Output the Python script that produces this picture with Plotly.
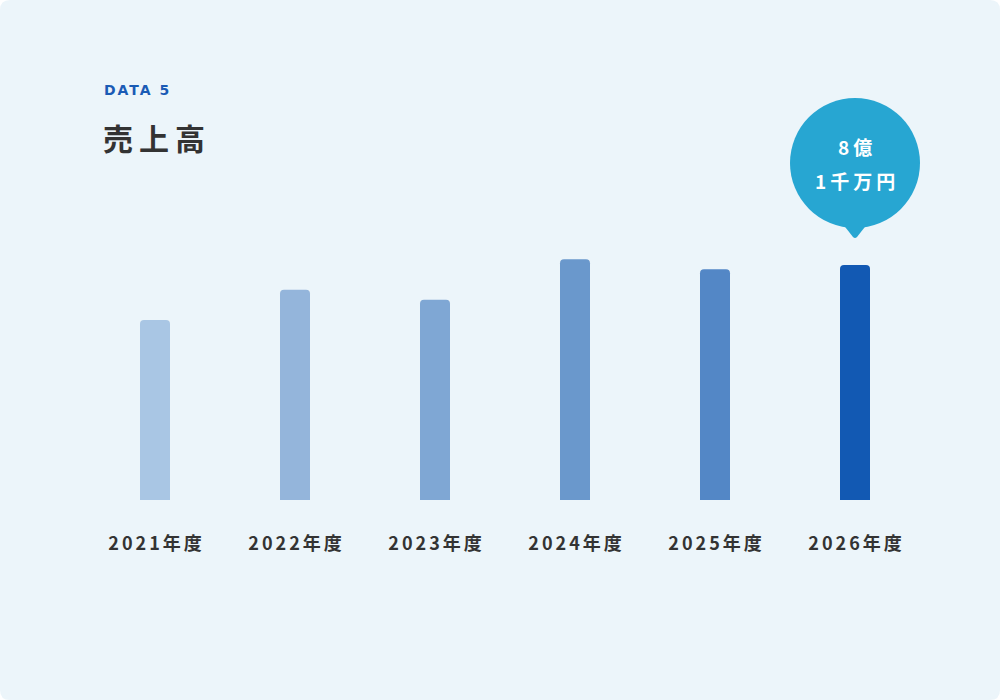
import plotly.graph_objects as go

categories = ["2021年度", "2022年度", "2023年度", "2024年度", "2025年度", "2026年度"]
sales_oku = [6.2, 7.25, 6.9, 8.3, 7.95, 8.1]  # 億円
bar_colors = ["#A9C6E4", "#94B5DB", "#7FA7D4", "#6A98CC", "#5387C6", "#1259B3"]
eyebrow = "DATA 5"
title = "売上高"
bubble_lines = ["8億", "1千万円"]

BG = "#ECF5FA"
TEXT = "#333333"
FONT = "Noto Sans CJK JP"

W, H = 1000, 700
ML, MR, MT, MB = 85, 75, 60, 200
PW, PH = W - ML - MR, H - MT - MB


def px2paper(px, py):
    return (px - ML) / PW, (H - MB - py) / PH


def card_path(r=10):
    (ax, ay) = px2paper(0, 0)
    (bx, by) = px2paper(W, H)
    rx, ry = r / PW, r / PH
    return (
        f"M{ax + rx},{ay} L{bx - rx},{ay} Q{bx},{ay} {bx},{ay - ry} "
        f"L{bx},{by + ry} Q{bx},{by} {bx - rx},{by} "
        f"L{ax + rx},{by} Q{ax},{by} {ax},{by + ry} "
        f"L{ax},{ay - ry} Q{ax},{ay} {ax + rx},{ay} Z"
    )


fig = go.Figure(
    go.Bar(
        x=categories,
        y=sales_oku,
        marker=dict(color=bar_colors, cornerradius=4, line=dict(width=0)),
        hoverinfo="skip",
    )
)

fig.add_shape(type="path", xref="paper", yref="paper", path=card_path(10),
              fillcolor=BG, line=dict(width=0), layer="below")

last = len(categories) - 1
fig.add_shape(
    type="circle", xref="x", yref="y",
    xsizemode="pixel", ysizemode="pixel",
    xanchor=last, yanchor=sales_oku[last],
    x0=-65, x1=65, y0=37, y1=167,
    fillcolor="#27A6D2", line=dict(width=0), layer="above",
)
fig.add_shape(
    type="path", xref="x", yref="y",
    xsizemode="pixel", ysizemode="pixel",
    xanchor=last, yanchor=sales_oku[last],
    path="M-13,42 L-2,28 Q0,26 2,28 L13,42 Z",
    fillcolor="#27A6D2", line=dict(width=0), layer="above",
)
for txt, shift in zip(bubble_lines, [119, 85]):
    fig.add_annotation(
        x=last, y=sales_oku[last], xref="x", yref="y",
        text=f"<b>{txt}</b>", showarrow=False, yshift=shift, xshift=2,
        font=dict(family=FONT, size=19, color="white"),
    )

ex, ey = px2paper(102, 90)
fig.add_annotation(
    xref="paper", yref="paper", xanchor="left", yanchor="middle", align="left",
    x=ex, y=ey, text="<b>" + eyebrow + "</b>", showarrow=False,
    font=dict(family="DejaVu Sans", size=14, color="#1A5BB5"),
)
tx, ty = px2paper(101, 137)
fig.add_annotation(
    xref="paper", yref="paper", xanchor="left", yanchor="middle", align="left",
    x=tx, y=ty, text="<b>" + title + "</b>", showarrow=False,
    font=dict(family=FONT, size=30, color=TEXT),
)

fig.update_layout(
    width=W, height=H,
    margin=dict(l=ML, r=MR, t=MT, b=MB, pad=0),
    paper_bgcolor="white", plot_bgcolor="rgba(0,0,0,0)",
    bargap=1 - 30 / 140,
    showlegend=False,
    font=dict(family=FONT),
)
fig.update_xaxes(
    type="category", range=[-0.5, 5.5], showgrid=False, zeroline=False,
    showline=False, ticks="outside", ticklen=27, tickcolor="rgba(0,0,0,0)",
    tickfont=dict(family=FONT, size=18, color=TEXT),
    tickvals=categories, ticktext=[f"<b>{c}</b>" for c in categories],
)
fig.update_yaxes(
    range=[0, 8.1 * PH / 235], showgrid=False, zeroline=False,
    showline=False, showticklabels=False, fixedrange=True,
)

post = """
document.body.style.margin='0';
var sp = {'DATA 5':'2px','売上高':'6px','8億':'4px','1千万円':'4px'};
document.querySelectorAll('.xtick text').forEach(function(t){
  t.style.letterSpacing='3px'; t.setAttribute('dx','1.5');
});
document.querySelectorAll('.annotation-text').forEach(function(t){
  var s = sp[t.textContent];
  if(s){ t.style.letterSpacing=s; }
});
"""

fig.write_html("out.html", post_script=post, config={"displayModeBar": False})
